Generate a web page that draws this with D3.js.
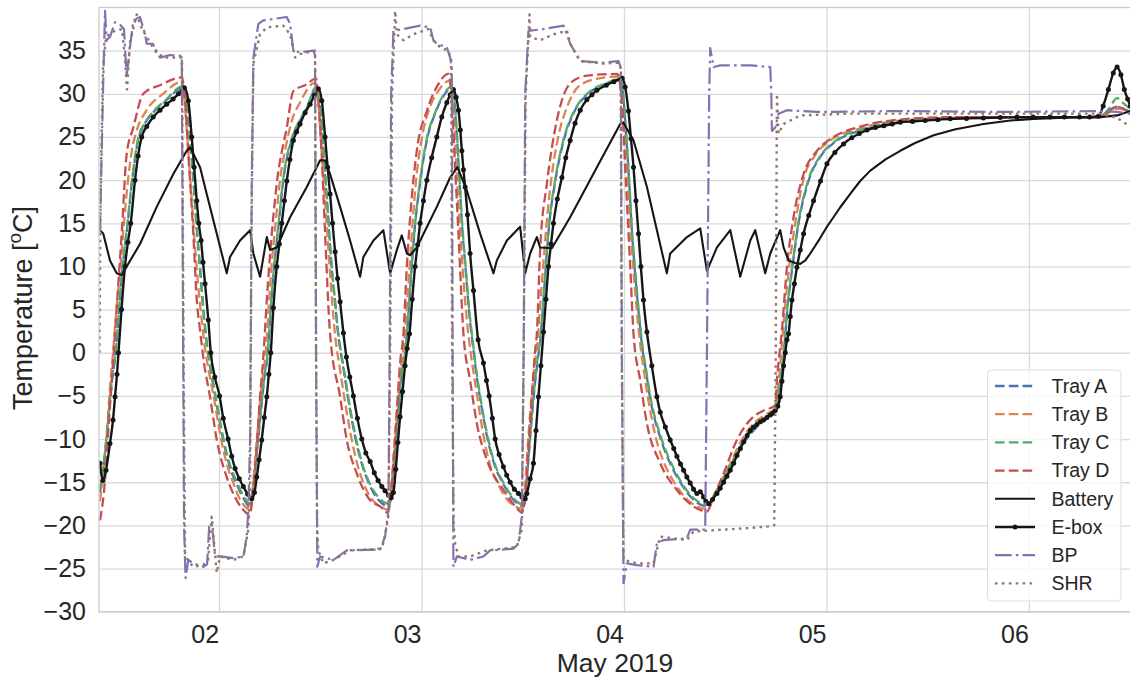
<!DOCTYPE html>
<html>
<head>
<meta charset="utf-8">
<script src="https://cdn.jsdelivr.net/npm/d3@7"></script>
<style>
    body { margin: 0; background: #fff; }
    svg { display: block; font-family: "Liberation Sans", Arial, sans-serif; }
</style>
</head>
<body>
<svg id="chart" width="1130" height="680"></svg>
<script>
// each point: [hours after 2019-05-01 00:00, temperature in degC]
var trayA = [
    [9.89,-16.2],[10.36,-12.8],[10.84,-8.3],[11.31,-3.3],[11.79,0.3],[12.14,4.8],[12.56,9.8],[13.15,14.8],[13.68,19.8],[14.45,24.8],[15.11,26.4],[16.06,27.7],[17.6,29.1],[19.73,30.7],
    [19.91,30.0],[20.27,27.7],[20.56,24.6],[20.98,19.6],[21.33,14.6],[21.75,9.6],[22.16,4.6],[22.58,0.7],[23.05,-2.3],[23.59,-5.3],[24.53,-10.3],[25.3,-13.3],[26.13,-15.3],[26.85,-16.8],[27.68,-17.8],
    [28.03,-15.8],[28.51,-11.3],[28.92,-7.2],[29.34,-3.2],[29.81,0.3],[30.11,4.8],[30.52,9.8],[31.06,14.8],[31.59,19.8],[32.66,24.8],[33.61,26.9],[34.44,28.4],[35.5,30.6],
    [35.86,29.3],[36.21,25.6],[36.57,20.6],[36.93,15.6],[37.28,10.6],[37.76,5.6],[38.11,2.2],[38.82,-2.3],[39.3,-5.3],[40.25,-10.3],[40.96,-13],[41.79,-15.2],[42.85,-17],[44.16,-17.8],
    [44.51,-15.3],[44.87,-11.3],[45.23,-6.8],[45.7,-2.3],[46.12,0.3],[46.41,3.8],[46.83,9.8],[47.24,14.8],[47.84,19.8],[48.67,24.8],[49.61,27.7],[50.44,29.5],[51.51,30.6],
    [51.87,29.3],[52.16,25.6],[52.46,20.6],[52.82,14.6],[53.23,9.6],[53.65,4.6],[54.12,0.6],[54.48,-2.3],[54.95,-5.3],[55.9,-10.3],[56.73,-13.2],[57.68,-15.2],[58.86,-17.0],[60.11,-17.8],
    [60.4,-15.8],[60.76,-11.3],[61.23,-5.8],[61.71,-1.3],[62.06,1.3],[62.36,4.8],[62.72,9.8],[63.13,14.8],[63.84,19.8],[64.91,24.8],[66.1,27.9],[67.99,30.2],[69.77,31.1],[71.55,31.6],
    [71.91,29.7],[72.26,25.2],[72.62,19.6],[72.97,13.6],[73.33,9.1],[73.74,4.6],[74.16,0.6],[74.63,-2.3],[75.11,-5.3],[76.29,-9.8],[77.24,-12.3],[78.67,-15],[80.21,-17],[81.87,-17.8],
    [82.82,-16.4],[84.59,-13.2],[86.37,-10.2],[88.15,-8.2],[89.93,-6.7],[90.41,-4.2],[90.94,-0.2],[91.35,4.8],[91.95,9.8],[92.66,14.8],[93.84,19.8],[95.27,22.7],[97.16,24.5],[100.72,25.9],[107.13,26.9],[118.51,27.3],[128.23,27.3],[129.42,28.0],[130.45,28.5],[131.32,28.2],[132.03,27.9]
];

var trayB = [
    [9.89,-17.2],[10.36,-13],[10.72,-9],[11.07,-4],[11.43,0],[11.79,4.5],[12.32,10],[12.73,15],[13.21,20],[13.68,23.5],[14.16,25.5],[15.34,28],[17.36,30],[19.61,31.4],
    [19.79,30.3],[20.09,27],[20.38,23],[20.74,18],[21.1,13],[21.51,8],[21.92,4],[22.34,0.5],[22.76,-2],[23.35,-5],[24.24,-10],[24.95,-13],[25.66,-15],[26.49,-17],[27.08,-17.8],[27.68,-18.2],
    [27.91,-16.5],[28.39,-11],[28.74,-7],[29.16,-3],[29.57,0.5],[29.87,5],[30.22,10],[30.7,15],[31.23,20],[31.94,24],[32.66,27],[33.6,29],[35.38,31.3],
    [35.74,29.5],[36.04,25],[36.39,20],[36.75,15],[37.1,10],[37.4,6],[37.76,2],[38.35,-2],[38.82,-5],[39.71,-10],[40.36,-12.8],[41.08,-15],[42.14,-17],[43.09,-17.8],[44.04,-18.2],
    [44.4,-15.5],[44.75,-11],[45.11,-6],[45.52,-2],[45.88,0.5],[46.17,4],[46.59,10],[46.94,15],[47.36,20],[48.07,25],[49.02,28.5],[49.97,30.3],[51.27,31.5],
    [51.63,30],[51.93,25.5],[52.22,20],[52.58,14],[52.93,9],[53.35,4],[53.76,0.5],[54.12,-2],[54.59,-5],[55.42,-10],[56.13,-13],[56.97,-15],[58.15,-17],[58.98,-17.7],[59.99,-18.1],
    [60.23,-16],[60.58,-11],[61.0,-5.5],[61.47,-1],[61.77,1.5],[62.06,5.5],[62.42,10],[62.83,15],[63.37,20],[64.2,25],[65.26,28.5],[66.57,30.8],[68.59,31.7],[71.43,32],
    [71.79,30],[72.08,26],[72.38,21],[72.74,15],[73.09,10],[73.51,5],[73.92,1],[74.34,-2],[74.81,-5],[75.82,-10],[76.77,-12.8],[77.95,-15],[79.85,-17.3],[81.87,-18.1],
    [82.82,-16.3],[84.36,-13.3],[86.02,-10],[87.56,-8],[89.1,-7],[89.93,-6.4],[90.29,-4],[90.64,0],[91.06,5],[91.59,10],[92.3,15],[93.25,20],[94.67,22.9],[96.45,24.6],[100.01,26],[105.94,27],[116.61,27.3],[128.23,27.3],[129.66,27.9],[130.6,28.3],[132.03,27.8]
];

var trayC = [
    [9.89,-15.8],[10.36,-12.5],[10.84,-8],[11.31,-3],[11.79,0.5],[12.14,5],[12.56,10],[13.15,15],[13.68,20],[14.45,25],[15.11,26.5],[16.06,27.8],[17.6,29.2],[19.73,30.9],
    [19.91,30.2],[20.27,28],[20.56,25],[20.98,20],[21.33,15],[21.75,10],[22.16,5],[22.58,1],[23.05,-2],[23.59,-5],[24.53,-10],[25.3,-13],[26.13,-15],[26.85,-16.5],[27.68,-17.5],
    [28.03,-15.5],[28.51,-11],[28.92,-7],[29.34,-3],[29.81,0.5],[30.11,5],[30.52,10],[31.06,15],[31.59,20],[32.66,25],[33.61,27],[34.44,28.5],[35.5,30.8],
    [35.86,29.5],[36.21,26],[36.57,21],[36.93,16],[37.28,11],[37.76,6],[38.11,2.5],[38.82,-2],[39.3,-5],[40.25,-10],[40.96,-12.8],[41.79,-15],[42.85,-16.7],[44.16,-17.5],
    [44.51,-15],[44.87,-11],[45.23,-6.5],[45.7,-2],[46.12,0.5],[46.41,4],[46.83,10],[47.24,15],[47.84,20],[48.67,25],[49.61,27.8],[50.44,29.6],[51.51,30.8],
    [51.87,29.5],[52.16,26],[52.46,21],[52.82,15],[53.23,10],[53.65,5],[54.12,1],[54.48,-2],[54.95,-5],[55.9,-10],[56.73,-13],[57.68,-15],[58.86,-16.8],[60.11,-17.6],
    [60.4,-15.5],[60.76,-11],[61.23,-5.5],[61.71,-1],[62.06,1.5],[62.36,5],[62.72,10],[63.13,15],[63.84,20],[64.91,25],[66.1,28],[67.99,30.3],[69.77,31.2],[71.55,31.7],
    [71.91,30],[72.26,25.5],[72.62,20],[72.97,14],[73.33,9.5],[73.74,5],[74.16,1],[74.63,-2],[75.11,-5],[76.29,-9.5],[77.24,-12],[78.67,-14.8],[80.21,-16.8],[81.87,-17.6],
    [82.82,-16.2],[84.59,-13],[86.37,-10],[88.15,-8],[89.93,-6.6],[90.41,-4],[90.94,0],[91.35,5],[91.95,10],[92.66,15],[93.84,20],[95.27,22.8],[97.16,24.6],[100.72,26],[107.13,27],[118.51,27.3],[128.23,27.3],[129.42,28.2],[130.45,29.5],[131.32,28.8],[132.03,28.2]
];

var trayD = [
    [9.89,-19.4],[10.48,-14.8],[10.87,-9],[11.28,-3.2],[11.67,2.2],[12.06,8],[12.46,13.8],[13.05,23],[13.84,26.1],[15.02,30],[17.0,31],[19.58,31.9],
    [19.97,29.2],[20.36,23],[20.95,13.8],[21.36,6.1],[21.75,2.6],[22.22,-1.2],[22.93,-5.1],[23.73,-10.1],[24.91,-14.4],[26.1,-17.1],[27.28,-18.6],[27.59,-18.8],
    [28.07,-15.9],[28.47,-10.9],[28.86,-5.1],[29.25,-0.5],[29.66,6.1],[30.25,13.8],[30.84,19.6],[32.03,26.1],[32.81,30.3],[34.4,31.1],[35.5,31.8],
    [35.77,29.2],[36.18,22.7],[36.57,13.8],[37.16,2.2],[38.35,-5.1],[39.14,-10.1],[40.33,-14],[41.91,-17.1],[43.09,-17.8],[43.92,-18.5],
    [44.28,-17.4],[44.67,-12.8],[45.07,-7],[45.46,-1.2],[45.86,2.2],[46.26,10],[46.65,15.7],[47.44,23.4],[48.63,28],[49.81,30.8],[51.19,32.3],
    [51.59,29.2],[51.98,21.5],[52.38,13.8],[52.97,2.2],[53.76,-3.2],[54.56,-8.2],[55.74,-12.4],[57.71,-15.9],[59.3,-18],[59.89,-18.5],
    [60.29,-16.7],[60.68,-10.9],[61.08,-5.1],[61.47,0.3],[61.67,2.2],[62.06,11.9],[62.86,19.6],[64.04,26.9],[65.62,31.2],[67.6,32.1],[71.19,32.3],
    [71.75,29.2],[72.14,21.5],[72.74,10],[73.13,2.2],[73.92,-3.2],[74.72,-8.2],[76.29,-12.8],[78.27,-15.9],[80.24,-17.8],[81.83,-18.4],
    [82.62,-16.7],[83.8,-14],[85.39,-10.1],[87.36,-7.4],[88.54,-6.7],[89.93,-6.1],[90.13,-3.2],[90.72,2.6],[91.32,10],[92.1,15.7],[93.29,20.7],[94.88,23.4],[96.85,25],[99.62,26.1],[103.57,26.9],[110.68,27.3],[126.45,27.3],[128.47,27.4],[130.45,28.5],[132.03,27.7]
];

var battery = [
    [9.89,14.2],[10.28,13.8],[11.07,10.7],[11.87,9.2],[12.46,9.0],[13.05,10.0],[14.63,12.6],[16.61,16.9],[18.58,20.7],[20.17,23.4],[20.56,23.8],[21.75,21.5],[22.54,18.4],[23.73,13.8],[24.91,9.2],
    [25.3,11.1],[26.49,13],[27.68,14.2],[28.07,11.5],[28.86,8.8],[29.66,13.4],[30.05,11.9],[30.84,12.2],[32.42,15.7],[34.4,19.2],[35.98,22.3],[36.57,22.3],[37.16,20.7],[38.35,16.9],[39.53,13],[40.72,8.8],
    [41.11,11.1],[42.3,13],[43.48,14.2],[44.28,9.2],[45.07,11.9],[45.66,13.6],[46.26,11.5],[46.65,11.3],[47.44,12.2],[49.81,16.9],[51.39,20.3],[52.26,21.5],[53.37,18.8],[54.95,13.8],[56.53,9.2],
    [56.93,10.7],[58.12,13],[59.69,14.6],[60.29,9.2],[60.88,11.5],[61.67,13.4],[62.06,12.2],[63.45,12.1],[65.62,15.7],[68.79,21.5],[71.55,26.5],[71.91,26.7],[73.13,24.6],[74.72,19.2],[77.08,9.2],
    [77.48,11.5],[79.46,13.4],[81.04,14.4],[81.83,9.5],[83.02,12.2],[84.6,14.2],[85.78,8.8],[86.97,13],[87.56,14.2],[88.74,9.2],[89.34,11.5],[90.52,14.2],[90.92,12.2],[91.51,10.7],[92.3,10.4],[92.89,10.3],
    [93.5,10.7],[94.08,11.5],[95.2,13.2],[96.06,14.6],[97.6,16.8],[98.82,18.4],[100.0,19.9],[101.2,21.1],[103.0,22.4],[104.75,23.4],[106.5,24.3],[108.7,25.2],[111.3,25.9],[114.63,26.5],[117.8,26.9],[120.56,27.1],[124.9,27.25],[128.47,27.3],[130.45,27.5],[132.03,28]
];

var ebox = [
    [9.89,-12.8],[10.24,-14.8],[10.6,-13.6],[11.07,-10.5],[11.43,-7.8],[11.67,-5.1],[11.9,-2.5],[12.08,0],[12.44,5],[12.85,10],[13.2,12.8],[13.53,15],[14.04,20],[14.4,22.8],[14.83,25],[15.43,26.2],[16.2,27.3],[17.0,28.1],[17.8,28.8],[18.55,29.4],[19.2,30],[19.89,30.7],
    [20.36,29.2],[20.76,25],[21.05,21.5],[21.36,17.6],[21.6,15],[21.87,13],[22.1,10.5],[22.34,8],[22.73,3.8],[23.02,0],[23.5,-2.8],[24.06,-5],[24.5,-7.6],[25.07,-10],[25.5,-12],[25.9,-13.4],[26.4,-14.6],[26.88,-15.5],[27.4,-16.4],[27.88,-16.9],
    [28.2,-16.2],[28.47,-14.4],[28.75,-12.4],[29.06,-10.1],[29.36,-7.5],[29.66,-5.1],[29.9,-2.5],[30.13,0],[30.44,5.2],[30.84,10],[31.15,12.6],[31.43,15],[31.75,17.6],[32.03,19.9],[32.4,22.4],[32.81,24.6],[33.2,25.6],[33.6,26.5],[34.2,27.8],[34.79,28.8],[35.3,29.8],[35.77,30.6],
    [36.18,29.2],[36.57,25],[36.87,21.5],[37.16,18.4],[37.45,15],[37.76,11.7],[38.05,8.6],[38.35,5.9],[38.74,2.3],[39.1,-0.5],[39.5,-2.8],[39.93,-5],[40.4,-7.6],[40.92,-10],[41.4,-11.6],[41.91,-12.6],[42.4,-13.9],[42.85,-14.8],[43.3,-15.5],[43.68,-16],[44.1,-16.5],[44.4,-16.8],
    [44.67,-16.2],[44.95,-13.5],[45.2,-10.4],[45.46,-7.4],[45.75,-4.5],[46.05,-1.5],[46.3,0.5],[46.57,2.2],[46.9,6.2],[47.24,10],[47.54,12.5],[47.83,15],[48.23,17.6],[48.63,20],[49.2,22.6],[49.81,25],[50.4,27.3],[51.0,29],[51.4,29.9],[51.78,30.5],
    [52.1,29.6],[52.38,28.1],[52.6,25.8],[52.78,23.4],[52.97,21.2],[53.17,19.2],[53.45,16],[53.76,11.5],[54.16,7.2],[54.71,1.5],[55.34,-1.2],[55.7,-3.2],[56.02,-5],[56.4,-7.6],[56.73,-10],[57.2,-11.8],[57.71,-13.2],[58.1,-14.2],[58.51,-15],[59.0,-15.8],[59.49,-16.3],[59.9,-16.7],[60.29,-16.9],
    [60.49,-16.3],[60.88,-14.6],[61.27,-12.8],[61.57,-9],[61.86,-5.1],[62.15,-1.5],[62.46,2.4],[62.75,6.2],[63.05,10],[63.35,12.6],[63.64,15],[64.1,17.8],[64.64,20.3],[65.1,22.6],[65.62,24.6],[66.2,26.6],[66.81,28.1],[67.6,29.3],[68.2,29.9],[68.79,30.4],[69.9,31],[70.8,31.4],[71.79,31.8],
    [72.14,30.8],[72.53,28],[72.83,24.8],[73.13,21.5],[73.42,17.6],[73.72,13.8],[74.0,10],[74.31,6.1],[74.72,2.4],[75.3,-1.5],[75.9,-5.1],[76.3,-6.9],[76.9,-8.6],[77.48,-10.1],[77.9,-11.1],[78.27,-12],[78.7,-12.9],[79.06,-13.6],[79.45,-14.4],[79.85,-15.1],[80.25,-15.8],[80.65,-16.3],[81.04,-16.1],[81.43,-16.7],[81.7,-17.2],[82.02,-17.5],
    [82.5,-17.0],[83.02,-16.3],[83.4,-15.7],[83.8,-15],[84.2,-14.3],[84.6,-13.6],[85.0,-12.8],[85.4,-11.9],[85.8,-11.1],[86.2,-10.3],[86.6,-9.6],[86.97,-9],[87.36,-8.6],[87.76,-8.3],[88.15,-8.0],[88.54,-7.8],[88.94,-7.5],[89.34,-7.2],[89.63,-7.0],[89.93,-6.7],[90.23,-6.2],[90.52,-5.1],
    [90.72,-3.3],[90.92,-1.5],[91.12,0],[91.32,1.5],[91.51,2.2],[91.71,4.2],[91.91,6.1],[92.2,8],[92.5,9.9],[92.9,11.9],[93.29,13.8],[93.9,15.9],[94.47,17.6],[95.3,19.9],[96.06,21.9],[97.0,23.2],[98.03,24.2],[99.0,24.9],[99.9,25.4],[100.8,25.8],[101.8,26.1],[102.8,26.3],[103.8,26.5],[104.75,26.7],
    [106.2,26.8],[107.7,26.9],[109.2,27.0],[110.68,27.1],[112.6,27.15],[114.6,27.2],[116.6,27.25],[118.59,27.3],[120.5,27.3],[122.5,27.3],[124.2,27.3],[126.0,27.3],[127.2,27.3],[128.23,27.4],[128.8,28.6],[129.42,30.5],[130.0,32.4],[130.45,33.1],[130.9,32.2],[131.31,30.5],[131.7,29.4],[132.03,28.6]
];

var bp = [
    [9.89,14],[10.24,30],[10.48,39.6],[10.68,36.2],[11.07,36.6],[11.67,38.3],[12.26,38.0],[12.73,37.5],[13.05,32.0],[13.33,34.5],[13.84,38.5],[14.63,38.9],[15.23,36.9],[15.43,35.8],[16.17,35.8],[16.61,34.6],[17.0,34.2],[18.19,34.5],[19.58,34.4],
    [19.7,10],[19.85,-20],[20.03,-26.1],[20.36,-24],[20.95,-24.4],[22.14,-24.8],[22.58,-24.5],[22.85,-19.8],[23.17,-20],[23.53,-23.6],[24.12,-23.6],[25.7,-23.8],[26.88,-23.6],[27.28,-21.3],[27.47,-18.2],
    [27.68,-10],[27.88,20],[28.07,34.2],[28.66,38.1],[29.25,38.5],[32.03,38.9],[32.42,38.1],[32.81,35],[33.6,34.8],[35.18,35],[35.38,34.5],
    [35.5,0],[35.65,-24.8],[35.98,-23.6],[37.55,-24],[39.14,-22.9],[43.09,-22.8],[43.68,-21.3],[44.08,-18.2],
    [44.22,0],[44.4,30],[44.67,37.3],[45.86,37.5],[47.83,37.9],[49.02,37.7],[49.41,36.2],[49.81,35.8],[51.0,35.4],[51.39,34.2],[51.59,33],
    [51.69,0],[51.78,-24.8],[52.19,-23.6],[53.76,-24],[55.34,-23.6],[56.13,-22.9],[58.9,-22.7],[59.49,-22.1],[59.89,-19],
    [60.11,0],[60.29,30],[60.68,37.3],[62.46,37.5],[64.83,37.9],[65.23,36.9],[65.62,35.8],[66.81,33.8],[69.57,33.6],[71.35,33.8],[71.63,33],
    [71.75,0],[71.94,-26.7],[72.34,-24.4],[73.53,-24.6],[75.5,-24.8],[75.9,-22.1],[76.68,-21.7],[79.46,-21.5],[79.85,-20.5],[81.63,-20.5],
    [81.83,0],[82.1,30],[82.22,35.3],[82.62,33.1],[83.41,33.3],[86.97,33.3],[89.34,33.1],[89.46,30],[89.54,25.7],[89.93,26.1],[90.32,27.7],[91.32,28.1],[94.88,27.9],[104.75,28],[116.61,27.9],[128.47,28],[130.45,27.9],[132.03,27.7]
];

var shr = [
    [9.83,0],[9.95,18],[10.24,33],[10.6,36.5],[11.07,37],[11.67,37.3],[12.5,37.5],[12.85,34],[13.09,30.5],[13.45,36],[14.24,39.2],[14.87,37.5],[15.43,36.6],[16.17,35.4],[17.36,34.2],[19.61,34.2],
    [19.79,0],[19.97,-23.5],[20.32,-24],[20.92,-24.8],[22.1,-24.6],[22.7,-24],[23.13,-19],[23.41,-22],[23.73,-25.5],[24.12,-23.6],[25.7,-24],[26.88,-23.6],[27.47,-20.5],
    [27.68,-15],[27.85,15],[28.07,33.5],[28.86,36.9],[29.66,37.7],[31.62,37.9],[32.42,36.9],[33.01,34.2],[33.6,34.6],[35.38,35],
    [35.5,0],[35.62,-20],[35.77,-22.9],[36.37,-24.4],[37.55,-24],[39.53,-22.9],[43.09,-22.7],[43.48,-22.1],[44.08,-19],
    [44.28,0],[44.51,30],[44.87,39.6],[45.07,36.9],[45.86,36.2],[47.04,36.9],[48.82,37.5],[49.41,36.2],[50.21,35.4],[51.19,35],[51.51,34],
    [51.63,0],[51.81,-20],[51.98,-22.1],[52.38,-23.6],[53.76,-23.6],[55.74,-22.9],[59.3,-22.5],[59.89,-20.5],
    [60.11,0],[60.35,30],[60.8,39.2],[60.88,36.6],[62.06,36.2],[63.64,36.9],[65.23,37.3],[65.62,35.8],[66.81,33.8],[69.57,33.5],[71.35,33.6],[71.61,33],
    [71.73,0],[71.94,-24],[73.53,-24.4],[75.5,-24.4],[76.29,-21.3],[79.46,-21.7],[80.24,-20.7],[86.97,-20.3],[89.34,-20.1],[89.81,-20],
    [89.99,0],[90.13,30],[90.32,25.4],[90.92,26.5],[92.89,27.5],[98.82,27.7],[116.61,27.7],[128.47,27.7],[130.45,27.2],[132.03,26.2]
];

var yTicks = [-30, -25, -20, -15, -10, -5, 0, 5, 10, 15, 20, 25, 30, 35];
var dayTicks = [2, 3, 4, 5, 6];
var timeRange = [9.77, 132.1];

var textColor = "#262626";
var gridColor = "#d9d9d9";
var plot = {left: 99, top: 7.5, right: 1131, bottom: 611.7};
var t0 = new Date(2019, 4, 1);

function hourToDate(h) {
    return new Date(t0.getTime() + h * 3600e3);
}

var svg = d3.select("#chart");

var x = d3.scaleTime()
    .domain(timeRange.map(hourToDate))
    .range([plot.left, plot.right]);
var y = d3.scaleLinear()
    .domain([-30, 40])
    .range([plot.bottom, plot.top]);

// grid lines and tick labels
var yAxis = d3.axisLeft(y)
    .tickValues(yTicks)
    .tickSize(-(plot.right - plot.left))
    .tickPadding(13)
    .tickFormat(function(d) { return d < 0 ? "\u2212" + (-d) : String(d); });

var gy = svg.append("g")
    .attr("transform", "translate(" + plot.left + ",0)")
    .call(yAxis);
gy.select(".domain").remove();
gy.selectAll(".tick line").attr("stroke", gridColor).attr("stroke-width", 1.3);
gy.selectAll(".tick text")
    .attr("fill", textColor)
    .style("font-size", "25px")
    .style("font-family", "'Liberation Sans', Arial, sans-serif");

var xAxis = d3.axisBottom(x)
    .tickValues(dayTicks.map(function(d) { return new Date(2019, 4, d); }))
    .tickSize(-(plot.bottom - plot.top))
    .tickFormat(d3.timeFormat("%d"));

var gx = svg.append("g")
    .attr("transform", "translate(0," + plot.bottom + ")")
    .call(xAxis);
gx.select(".domain").remove();
gx.selectAll(".tick line").attr("stroke", gridColor).attr("stroke-width", 1.3);
gx.selectAll(".tick text")
    .attr("fill", textColor)
    .attr("text-anchor", "end")
    .attr("x", -0.5)
    .attr("y", 31.3)
    .attr("dy", null)
    .style("font-size", "25px")
    .style("font-family", "'Liberation Sans', Arial, sans-serif");

// axis labels
svg.append("text")
    .attr("x", 615)
    .attr("y", 672)
    .attr("text-anchor", "middle")
    .attr("fill", textColor)
    .style("font-size", "26.5px")
    .text("May 2019");

var ylab = svg.append("text")
    .attr("transform", "translate(31.5,308) rotate(-90)")
    .attr("text-anchor", "middle")
    .attr("fill", textColor)
    .style("font-size", "27px");
ylab.append("tspan").text("Temperature [");
ylab.append("tspan").attr("dy", -11).style("font-size", "19px").text("o");
ylab.append("tspan").attr("dy", 11).text("C]");

// data lines
svg.append("clipPath").attr("id", "plot-clip")
    .append("rect")
    .attr("x", plot.left).attr("y", plot.top)
    .attr("width", plot.right - plot.left)
    .attr("height", plot.bottom - plot.top);

var series = [
    {name: "Tray A", data: trayA, color: "#4c72b0", width: 2.3, dash: "9.6,4.2", smooth: true},
    {name: "Tray B", data: trayB, color: "#dd8452", width: 2.3, dash: "9.6,4.2", smooth: true},
    {name: "Tray C", data: trayC, color: "#55a868", width: 2.3, dash: "9.6,4.2", smooth: true},
    {name: "Tray D", data: trayD, color: "#c44e52", width: 2.3, dash: "9.6,4.2", smooth: true},
    {name: "Battery", data: battery, color: "#161616", width: 2.1, dash: null, smooth: false},
    {name: "E-box", data: ebox, color: "#161616", width: 2.4, dash: null, smooth: true, dots: true},
    {name: "BP", data: bp, color: "#8172b3", width: 2.2, dash: "16.6,4.2,2.6,4.2", smooth: false},
    {name: "SHR", data: shr, color: "#937860", width: 2.4, dash: "2.6,4.3", smooth: false}
];

var lines = svg.append("g").attr("clip-path", "url(#plot-clip)");

series.forEach(function(s) {
    var line = d3.line()
        .x(function(d) { return x(hourToDate(d[0])); })
        .y(function(d) { return y(d[1]); })
        .curve(s.smooth ? d3.curveMonotoneX : d3.curveLinear);

    lines.append("path")
        .datum(s.data)
        .attr("fill", "none")
        .attr("stroke", s.color)
        .attr("stroke-width", s.width)
        .attr("stroke-dasharray", s.dash)
        .attr("stroke-linejoin", "round")
        .attr("d", line);

    if (s.dots) {
        lines.selectAll(null)
            .data(s.data)
            .enter()
            .append("circle")
            .attr("cx", function(d) { return x(hourToDate(d[0])); })
            .attr("cy", function(d) { return y(d[1]); })
            .attr("r", 2.5)
            .attr("fill", s.color);
    }
});

// spines
svg.append("rect")
    .attr("x", plot.left).attr("y", plot.top)
    .attr("width", plot.right - plot.left)
    .attr("height", plot.bottom - plot.top)
    .attr("fill", "none")
    .attr("stroke", "#cccccc")
    .attr("stroke-width", 1.3);

// legend
var legend = svg.append("g");
legend.append("rect")
    .attr("x", 987.5).attr("y", 370)
    .attr("width", 133.5).attr("height", 231)
    .attr("rx", 4)
    .attr("fill", "#fff")
    .attr("fill-opacity", 0.8)
    .attr("stroke", "#dcdcdc")
    .attr("stroke-width", 1);

var entries = legend.selectAll("g.entry")
    .data(series)
    .enter()
    .append("g")
    .attr("class", "entry")
    .attr("transform", function(d, i) { return "translate(0," + (386 + i * 28.2) + ")"; });

entries.append("line")
    .attr("x1", 995).attr("x2", 1035)
    .attr("stroke", function(d) { return d.color; })
    .attr("stroke-width", function(d) { return d.width; })
    .attr("stroke-dasharray", function(d) { return d.dash; });

entries.filter(function(d) { return d.dots; })
    .append("circle")
    .attr("cx", 1015).attr("r", 2.5)
    .attr("fill", function(d) { return d.color; });

entries.append("text")
    .attr("x", 1051.5)
    .attr("dy", "0.35em")
    .attr("fill", textColor)
    .style("font-size", "19.5px")
    .text(function(d) { return d.name; });
</script>
</body>
</html>
